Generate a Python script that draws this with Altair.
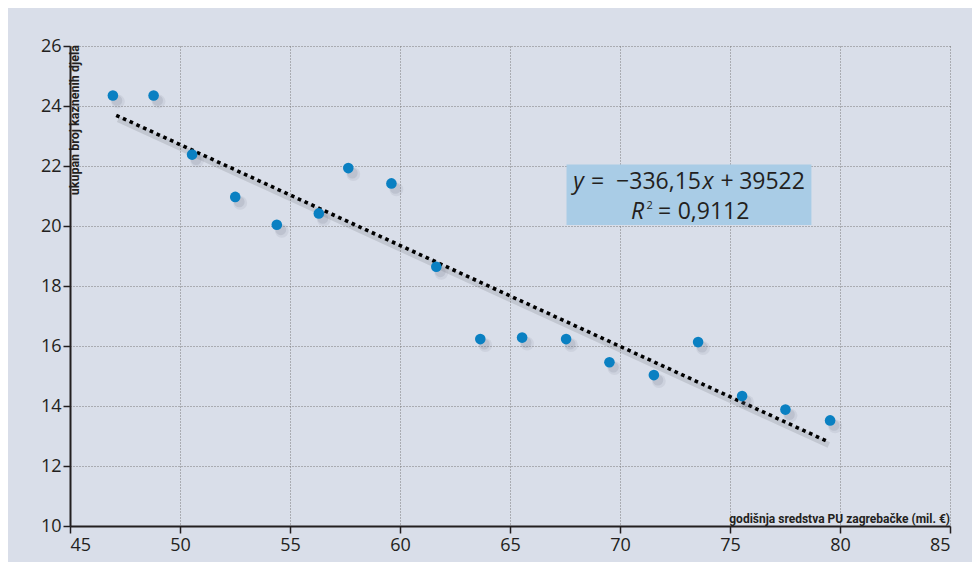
import altair as alt
import pandas as pd

# ---- data ----
x_vals = [46.95, 48.80, 50.55, 52.51, 54.40, 56.31, 57.65, 59.61, 61.65,
          63.65, 65.55, 67.55, 69.52, 71.54, 73.55, 75.55, 77.52, 79.55]
y_vals = [24.35, 24.35, 22.38, 20.97, 20.04, 20.42, 21.93, 21.42, 18.64,
          16.23, 16.28, 16.23, 15.46, 15.03, 16.13, 14.33, 13.88, 13.52]
trend_x = [47.1, 79.4]
trend_y = [23.69, 12.83]
x_ticks = [45, 50, 55, 60, 65, 70, 75, 80, 85]
y_ticks = [10, 12, 14, 16, 18, 20, 22, 24, 26]
x_title = "godišnja sredstva PU zagrebačke (mil. €)"
y_title = "ukupan broj kaznenih djela"

pts = pd.DataFrame({"x": x_vals, "y": y_vals})
trend = pd.DataFrame({"x": trend_x, "y": trend_y})
box = pd.DataFrame({"x": [67.57], "x2": [78.70], "y": [20.03], "y2": [22.05]})
eq1 = pd.DataFrame({"x": [73.16], "y": [21.23]})
eq2 = pd.DataFrame({"x": [73.16], "y": [20.23]})

BG = "#d9dee9"
INK = "#231f20"
BLUE = "#0a80c2"
FONT = "Open Sans"
NARROW = "Roboto"

xs = alt.Scale(domain=[45, 85], nice=False, zero=False)
ys = alt.Scale(domain=[10, 26], nice=False, zero=False)

X = alt.X("x:Q", scale=xs, axis=alt.Axis(values=x_ticks, title=None, grid=True,
                                          labelPadding=3))
Y = alt.Y("y:Q", scale=ys, axis=alt.Axis(values=y_ticks, title=None, grid=True,
                                          labelPadding=2))

grid_base = alt.Chart(pts).mark_point(opacity=0).encode(x=X, y=Y)

rect = alt.Chart(box).mark_rect(color="#a9cce6").encode(
    x=alt.X("x:Q", scale=xs), x2="x2:Q",
    y=alt.Y("y:Q", scale=ys), y2="y2:Q")

trend_shadow = alt.Chart(trend).mark_line(
    color="#000000", opacity=0.10, strokeWidth=6, xOffset=2, yOffset=4
).encode(x=alt.X("x:Q", scale=xs), y=alt.Y("y:Q", scale=ys))

trend_line = alt.Chart(trend).mark_line(
    color="#000000", strokeWidth=3.6, strokeDash=[3.6, 3.8], strokeCap="butt"
).encode(x=alt.X("x:Q", scale=xs), y=alt.Y("y:Q", scale=ys))

shadow1 = alt.Chart(pts).mark_circle(
    color="#6b6f80", opacity=0.10, size=190, xOffset=5, yOffset=6
).encode(x=alt.X("x:Q", scale=xs), y=alt.Y("y:Q", scale=ys))
shadow2 = alt.Chart(pts).mark_circle(
    color="#6b6f80", opacity=0.16, size=115, xOffset=4, yOffset=5
).encode(x=alt.X("x:Q", scale=xs), y=alt.Y("y:Q", scale=ys))

points = alt.Chart(pts).mark_circle(color=BLUE, opacity=1, size=112).encode(
    x=alt.X("x:Q", scale=xs), y=alt.Y("y:Q", scale=ys))


def piece(df, txt, dx, italic=False, size=23, dy=0):
    return alt.Chart(df).mark_text(
        text=txt, dx=dx, dy=dy, align="center", baseline="alphabetic",
        font=FONT, fontSize=size, color=INK,
        fontStyle="italic" if italic else "normal"
    ).encode(x=alt.X("x:Q", scale=xs), y=alt.Y("y:Q", scale=ys))


eq_layers = [
    piece(eq1, "y", -111, italic=True),
    piece(eq1, "=", -92),
    piece(eq1, "−336,15", -31),
    piece(eq1, "x", 18.5, italic=True),
    piece(eq1, "+", 37.5),
    piece(eq1, "39522", 82.5),
    piece(eq2, "R", -52, italic=True),
    piece(eq2, "2", -40, size=11, dy=-10),
    piece(eq2, "=", -25),
    piece(eq2, "0,9112", 24),
]

one = pd.DataFrame({"a": [0]})
ytitle = alt.Chart(one).mark_text(
    text=y_title, angle=270, align="right", baseline="alphabetic",
    font=NARROW, fontSize=12.5, fontWeight="bold", color=INK
).encode(x=alt.value(9), y=alt.value(-1))
xtitle = alt.Chart(one).mark_text(
    text=x_title, align="right", baseline="alphabetic",
    font=NARROW, fontSize=12, fontWeight="bold", color=INK
).encode(x=alt.value(880), y=alt.value(477))

chart = alt.layer(
    grid_base, rect, trend_shadow, trend_line, shadow1, shadow2, points,
    *eq_layers, ytitle, xtitle
).properties(
    width=880, height=480,
    padding={"left": 62, "top": 38, "right": 22, "bottom": 36},
    autosize=alt.AutoSizeParams(type="none"),
    background=BG,
).configure_view(
    stroke=None
).configure_axis(
    labelFont=FONT, labelFontSize=18, labelColor=INK,
    domainColor=INK, domainWidth=2,
    tickColor=INK, tickWidth=1.5, tickSize=7,
    gridColor="#7a7a7a", gridDash=[1, 2], gridWidth=1,
)

chart.save("out.html", embed_options={"renderer": "svg", "actions": False})
